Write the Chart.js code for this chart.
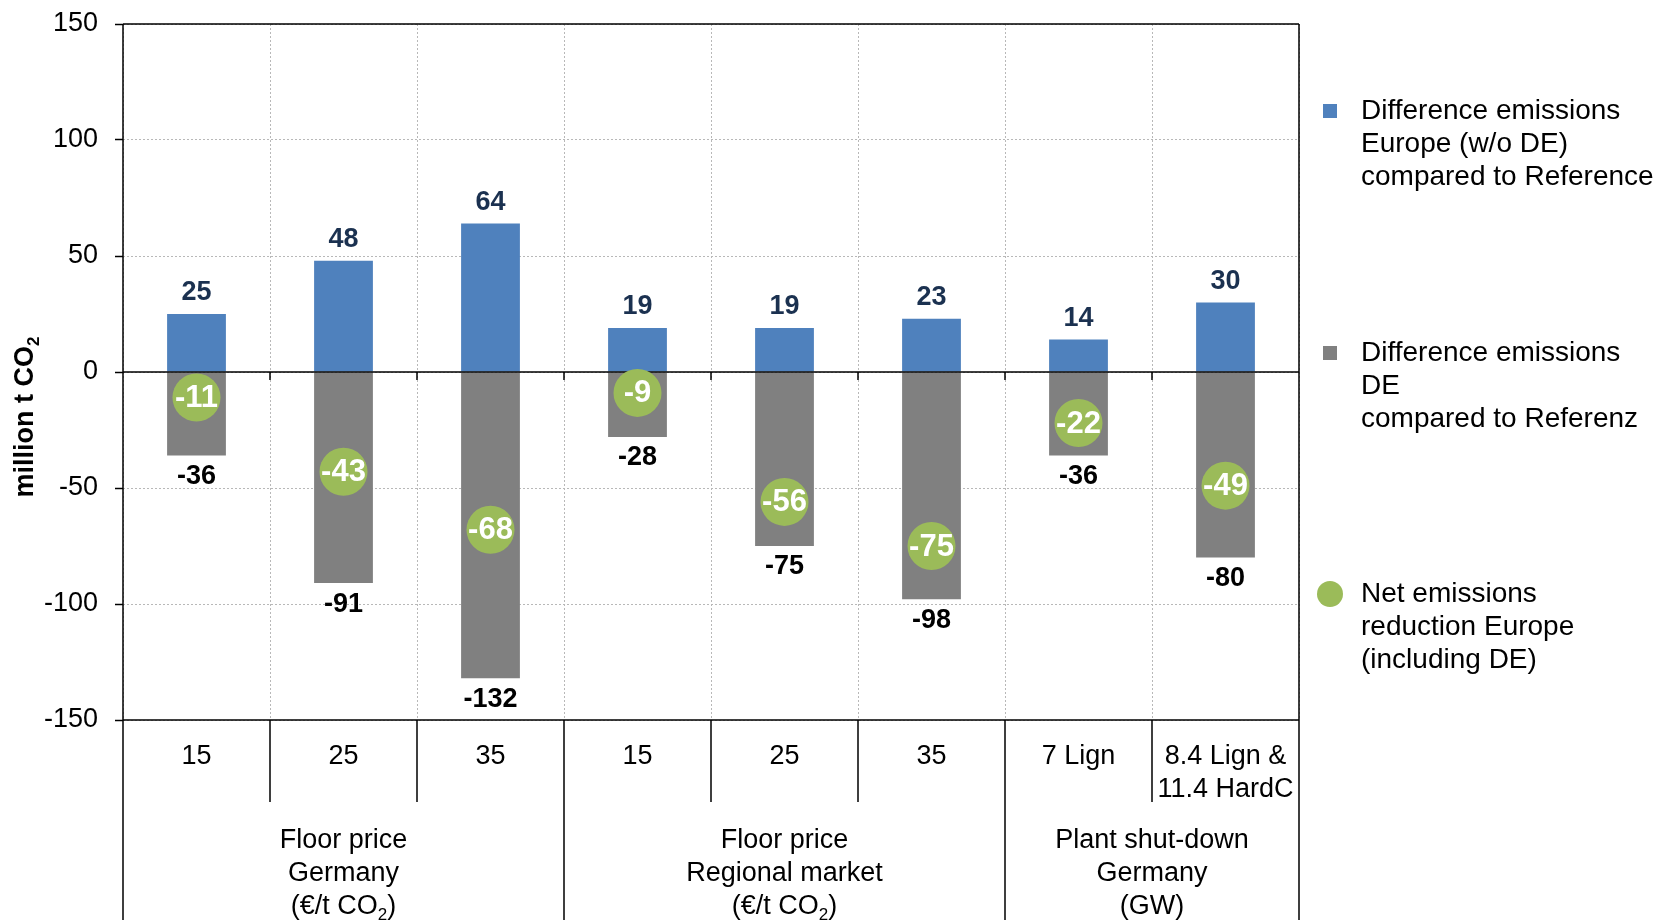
<!DOCTYPE html>
<html>
<head>
<meta charset="utf-8">
<script src="https://cdn.jsdelivr.net/npm/chart.js@4.4.0/dist/chart.umd.min.js"></script>
<style>
  html, body { margin: 0; padding: 0; background: #fff; }
</style>
</head>
<body>
<canvas id="grafico" width="1672" height="920"></canvas>
<script>
// Datos del grafico
var categorias = [['15'], ['25'], ['35'], ['15'], ['25'], ['35'], ['7 Lign'], ['8.4 Lign &', '11.4 HardC']];
var difEuropa = [25, 48, 64, 19, 19, 23, 14, 30];
var difAlemania = [-36, -91, -132, -28, -75, -98, -36, -80];
var netoEuropa = [-11, -43, -68, -9, -56, -75, -22, -49];
var grupos = [['Floor price', 'Germany', '(€/t CO₂)'], ['Floor price', 'Regional market', '(€/t CO₂)'], ['Plant shut-down', 'Germany', '(GW)']];
var grupoTam = [3, 3, 2];
var leyenda = [
  ['Difference emissions', 'Europe (w/o DE)', 'compared to Reference'],
  ['Difference emissions', 'DE', 'compared to Referenz'],
  ['Net emissions', 'reduction Europe', '(including DE)']
];
var ejeY = {min: -150, max: 150, paso: 50};
var tituloY = 'million t CO₂';

var FAM = '"Liberation Sans", Arial, sans-serif';
var AZUL = '#4F81BD', GRIS = '#808080', VERDE = '#9BBB59';

// dibuja texto centrado en x, con el ₂ como subindice
function textoSub(ctx, txt, x, y, size, bold) {
  var f = (bold ? 'bold ' : '') + size + 'px ' + FAM;
  var fs = (bold ? 'bold ' : '') + Math.round(size * 0.62) + 'px ' + FAM;
  var partes = txt.split('₂');
  var total = 0, anchos = [];
  for (var i = 0; i < partes.length; i++) {
    ctx.font = f;
    var w = ctx.measureText(partes[i]).width;
    anchos.push(w); total += w;
    if (i < partes.length - 1) { ctx.font = fs; total += ctx.measureText('2').width; }
  }
  var cx = x - total / 2;
  ctx.textAlign = 'left';
  ctx.textBaseline = 'middle';
  for (var j = 0; j < partes.length; j++) {
    ctx.font = f;
    ctx.fillText(partes[j], cx, y);
    cx += anchos[j];
    if (j < partes.length - 1) {
      ctx.font = fs;
      ctx.fillText('2', cx, y + size * 0.3);
      cx += ctx.measureText('2').width;
    }
  }
}

var extras = {
  id: 'extras',
  beforeDatasetDraw: function(chart, args) {
    if (args.index !== 2) return;
    var ctx = chart.ctx, a = chart.chartArea;
    var x = chart.scales.x, y = chart.scales.y;
    var y0 = y.getPixelForValue(0);
    ctx.save();
    ctx.strokeStyle = '#000';
    ctx.lineWidth = 1.5;
    ctx.beginPath();
    ctx.moveTo(a.left, y0); ctx.lineTo(a.right, y0);
    ctx.moveTo(a.left, a.top); ctx.lineTo(a.right, a.top);
    ctx.stroke();
    // marcas bajo la linea de cero
    ctx.beginPath();
    for (var i = 0; i < categorias.length - 1; i++) {
      var bx = (x.getPixelForValue(i) + x.getPixelForValue(i + 1)) / 2;
      ctx.moveTo(bx, y0); ctx.lineTo(bx, y0 + 8);
    }
    ctx.stroke();
    ctx.restore();
  },
  afterDraw: function(chart) {
    var ctx = chart.ctx, a = chart.chartArea;
    var x = chart.scales.x, y = chart.scales.y;
    var H = chart.height;
    ctx.save();

    // lineas del eje
    ctx.strokeStyle = '#000';
    ctx.lineWidth = 1.5;
    ctx.beginPath();
    ctx.moveTo(a.left, a.top); ctx.lineTo(a.left, H);
    ctx.moveTo(a.right, a.top); ctx.lineTo(a.right, H);
    ctx.moveTo(a.left, a.bottom); ctx.lineTo(a.right, a.bottom);
    var limites = [], acc = 0;
    for (var g = 0; g < grupoTam.length - 1; g++) { acc += grupoTam[g]; limites.push(acc); }
    for (var i = 1; i < categorias.length; i++) {
      var bx = (x.getPixelForValue(i - 1) + x.getPixelForValue(i)) / 2;
      ctx.moveTo(bx, a.bottom);
      ctx.lineTo(bx, limites.indexOf(i) >= 0 ? H : a.bottom + 82);
    }
    ctx.stroke();

    // etiquetas de categorias
    ctx.fillStyle = '#000';
    categorias.forEach(function(lineas, i) {
      var cx = x.getPixelForValue(i);
      lineas.forEach(function(t, k) { textoSub(ctx, t, cx, a.bottom + 37 + k * 33, 27, false); });
    });

    // etiquetas de grupos
    var ini = 0;
    grupos.forEach(function(lineas, g) {
      var fin = ini + grupoTam[g] - 1;
      var izq = ini === 0 ? a.left : (x.getPixelForValue(ini - 1) + x.getPixelForValue(ini)) / 2;
      var der = fin === categorias.length - 1 ? a.right : (x.getPixelForValue(fin) + x.getPixelForValue(fin + 1)) / 2;
      lineas.forEach(function(t, k) { textoSub(ctx, t, (izq + der) / 2, a.bottom + 121 + k * 33, 27, false); });
      ini = fin + 1;
    });

    // valores de las barras
    difEuropa.forEach(function(v, i) {
      ctx.fillStyle = '#1B3150';
      textoSub(ctx, String(v), x.getPixelForValue(i), y.getPixelForValue(v) - 21, 27, true);
    });
    difAlemania.forEach(function(v, i) {
      ctx.fillStyle = '#000';
      textoSub(ctx, String(v), x.getPixelForValue(i), y.getPixelForValue(v) + 21, 27, true);
    });
    netoEuropa.forEach(function(v, i) {
      ctx.fillStyle = '#fff';
      textoSub(ctx, String(v), x.getPixelForValue(i), y.getPixelForValue(v) + 1, 31, true);
    });

    // titulo eje y
    ctx.save();
    ctx.translate(26, 417);
    ctx.rotate(-Math.PI / 2);
    ctx.fillStyle = '#000';
    textoSub(ctx, tituloY, 0, 0, 27, true);
    ctx.restore();

    // leyenda
    var posY = [111, 353, 594];
    leyenda.forEach(function(lineas, k) {
      var ly = posY[k];
      if (k < 2) {
        ctx.fillStyle = k === 0 ? AZUL : GRIS;
        ctx.fillRect(1323, ly - 7, 14, 14);
      } else {
        ctx.fillStyle = VERDE;
        ctx.beginPath();
        ctx.arc(1330, ly, 13, 0, Math.PI * 2);
        ctx.fill();
      }
      ctx.fillStyle = '#000';
      ctx.font = '28px ' + FAM;
      ctx.textAlign = 'left';
      ctx.textBaseline = 'middle';
      lineas.forEach(function(t, j) { ctx.fillText(t, 1361, ly + j * 33); });
    });
    ctx.restore();
  }
};

var grafico = new Chart(document.getElementById('grafico').getContext('2d'), {
  type: 'bar',
  data: {
    labels: categorias.map(function(c) { return c.join(' '); }),
    datasets: [{
      label: leyenda[0].join(' '),
      data: difEuropa,
      backgroundColor: AZUL,
      stack: 'barras',
      order: 2,
      barPercentage: 0.4,
      categoryPercentage: 1
    }, {
      label: leyenda[1].join(' '),
      data: difAlemania,
      backgroundColor: GRIS,
      stack: 'barras',
      order: 2,
      barPercentage: 0.4,
      categoryPercentage: 1
    }, {
      type: 'line',
      label: leyenda[2].join(' '),
      data: netoEuropa,
      stack: 'neto',
      order: 1,
      showLine: false,
      pointRadius: 24,
      pointHoverRadius: 24,
      pointBorderWidth: 0,
      pointBackgroundColor: VERDE,
      clip: false
    }]
  },
  options: {
    responsive: false,
    devicePixelRatio: 1,
    animation: false,
    layout: { padding: { top: 16, right: 373, left: 0, bottom: 0 } },
    plugins: { legend: { display: false }, tooltip: { enabled: false } },
    scales: {
      x: {
        stacked: true,
        ticks: { display: false },
        grid: { color: '#b8b8b8', lineWidth: 1, drawTicks: false, offset: true },
        border: { display: false, dash: [2, 2] },
        afterFit: function(s) { s.height = 200; s.paddingLeft = 0; s.paddingRight = 0; }
      },
      y: {
        stacked: true,
        min: ejeY.min,
        max: ejeY.max,
        ticks: { stepSize: ejeY.paso, color: '#000', padding: 17, font: { size: 27, family: FAM } },
        grid: { color: '#b8b8b8', lineWidth: 1, tickColor: '#000', tickLength: 8, tickWidth: 1.5 },
        border: { display: false, dash: [2, 2] },
        afterFit: function(s) { s.width = 123; s.paddingTop = 0; s.paddingBottom = 0; }
      }
    }
  },
  plugins: [extras]
});
</script>
</body>
</html>
